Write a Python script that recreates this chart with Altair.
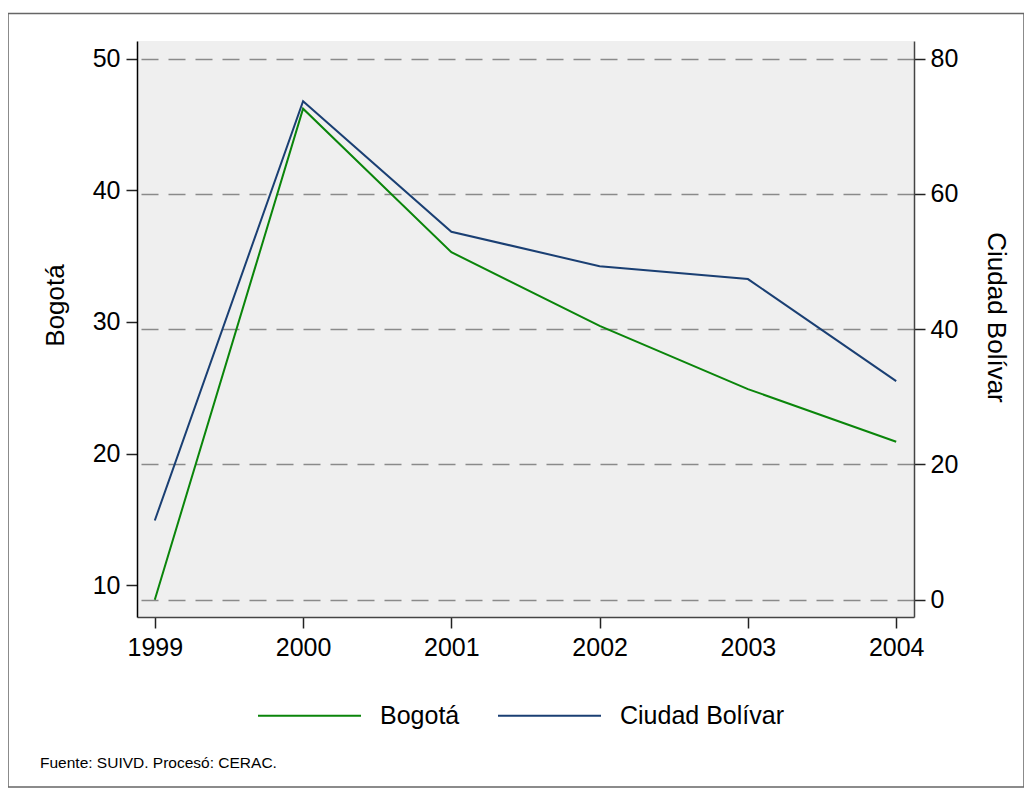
import altair as alt
import pandas as pd

years = [1999, 2000, 2001, 2002, 2003, 2004]
bogota = [8.9, 46.2, 35.3, 29.7, 24.9, 20.9]
ciudad_bolivar = [11.7, 73.7, 54.4, 49.3, 47.4, 32.3]
series_names = ["Bogotá", "Ciudad Bolívar"]
series_colors = ["#0a850a", "#1a3f73"]
left_ticks = [10, 20, 30, 40, 50]
right_ticks = [0, 20, 40, 60, 80]
source_note = "Fuente: SUIVD. Procesó: CERAC."

FONT = "Liberation Sans"
W, H = 777, 576
FS = 25
TFS = 26

df = pd.DataFrame({
    "Año": years * 2,
    "Valor": bogota + ciudad_bolivar,
    "Serie": [series_names[0]] * len(years) + [series_names[1]] * len(years),
})

color = alt.Color(
    "Serie:N",
    scale=alt.Scale(domain=series_names, range=series_colors),
    legend=alt.Legend(
        orient="none", legendX=120, legendY=622, direction="horizontal",
        title=None, symbolType="stroke", symbolSize=10609, symbolStrokeWidth=2,
        labelFontSize=FS, labelFont=FONT, labelColor="black", labelOffset=18,
        labelLimit=0, columnPadding=34, padding=0,
    ),
)

x = alt.X(
    "Año:Q",
    scale=alt.Scale(domain=[1998.88, 2004.12], nice=False, zero=False),
    axis=alt.Axis(
        values=years, format="d", title=None, grid=False,
        domainColor="#444444", domainWidth=1.5, tickColor="#222222", tickWidth=1.5,
        tickSize=11, labelFontSize=FS, labelFont=FONT, labelColor="black",
        labelPadding=7,
    ),
)

base = alt.Chart(df)

left = base.transform_filter(alt.datum.Serie == series_names[0]).mark_line(strokeWidth=2).encode(
    x=x,
    y=alt.Y(
        "Valor:Q",
        scale=alt.Scale(domain=[7.59, 51.34], nice=False, zero=False),
        axis=alt.Axis(
            orient="left", values=left_ticks, title=series_names[0], grid=False,
            domainColor="black", domainWidth=1.5, tickColor="#222222", tickWidth=1.5,
            tickSize=11, labelFontSize=FS, labelFont=FONT, labelColor="black",
            labelPadding=6, titleFontSize=TFS, titleFont=FONT, titleFontWeight="normal",
            titleColor="black", titleAngle=-90, titleX=-82, titleY=264,
            titleBaseline="middle", titleAlign="center",
        ),
    ),
    color=color,
)

right = base.transform_filter(alt.datum.Serie == series_names[1]).mark_line(strokeWidth=2).encode(
    x=x,
    y=alt.Y(
        "Valor:Q",
        scale=alt.Scale(domain=[-2.57, 82.6], nice=False, zero=False),
        axis=alt.Axis(
            orient="right", values=right_ticks, title=series_names[1], grid=True,
            gridColor="#8a8a8a", gridDash=[17, 10], gridWidth=1.3,
            domainColor="#444444", domainWidth=1.5, tickColor="#222222", tickWidth=1.5,
            tickSize=11, labelFontSize=FS, labelFont=FONT, labelColor="black",
            labelPadding=5, titleFontSize=TFS, titleFont=FONT, titleFontWeight="normal",
            titleColor="black", titleAngle=90, titleX=81, titleY=276,
            titleBaseline="middle", titleAlign="center",
        ),
    ),
    color=color,
)

frame = alt.Chart(pd.DataFrame({"k": [0]})).mark_rect(
    fill="transparent", stroke="#666666", strokeWidth=1.5
).encode(
    x=alt.value(-129), x2=alt.value(887), y=alt.value(-27.5), y2=alt.value(746)
)

note = alt.Chart(pd.DataFrame({"t": [source_note]})).mark_text(
    align="left", baseline="middle", font=FONT, fontSize=15.5, color="black"
).encode(text="t:N", x=alt.value(-97), y=alt.value(722))

chart = alt.layer(frame, left, right, note).resolve_scale(
    y="independent"
).properties(
    width=W, height=H,
    autosize=alt.AutoSizeParams(type="none"),
    padding={"left": 129, "top": 33, "right": 110, "bottom": 175},
    background="white",
).configure_view(fill="#efefef", strokeWidth=0)

chart.save("out.html", embed_options={"renderer": "svg", "actions": False})
